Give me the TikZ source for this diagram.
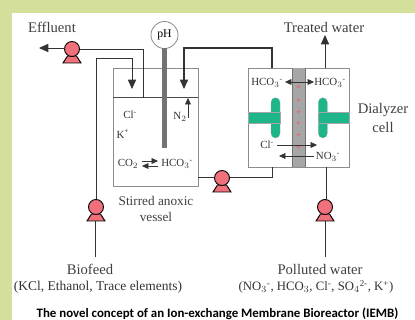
\documentclass[tikz,border=0pt]{standalone}
\usepackage{fontspec}
\setmainfont{Liberation Serif}
\newfontfamily\capfont{Carlito}
\usetikzlibrary{arrows.meta}
\definecolor{framegreen}{HTML}{D3DF9B}
\definecolor{pumpred}{HTML}{F0717C}
\definecolor{spacergreen}{HTML}{1DB58A}
\tikzset{
    pipe/.style = {draw = black!80, line width = 0.7pt},
    flow/.style = {pipe, -{Triangle[length = 8pt, width = 7pt]}},
    ion/.style = {draw = black!80, line width = 0.5pt, -{Triangle[length = 5.5pt, width = 5pt]}},
    tank/.style = {draw = black!45, line width = 0.7pt, fill = white},
    lbl/.style = {text = black!75, font = \fontsize{12.5}{15}\selectfont, inner sep = 0pt, align = center},
    chem/.style = {text = black!80, font = \fontsize{9.3}{11}\selectfont, inner sep = 0pt},
    spacer/.style = {fill = spacergreen, draw = black!35, line width = 0.2pt},
    pumppart/.style = {fill = pumpred, draw = black, line width = 0.8pt}
}
\newcommand{\minus}{\textsuperscript{-}}
% one pump: head on a foot
\newcommand{\pump}[2]{
    \coordinate (#1) at (#2);
    \draw[pumppart] ([shift = {(-4.5,7)}]#1) -- ([shift = {(4.5,7)}]#1)
        -- ([shift = {(9,14)}]#1) -- ([shift = {(-9,14)}]#1) -- cycle;
    \draw[pumppart] (#1) circle (7.5);
}
\begin{document}
\begin{tikzpicture}[x = 0.03cm, y = -0.03cm]
    \useasboundingbox (0,0) rectangle (415,320);
    \fill[framegreen] (0,0) rectangle (415,320);
    \fill[white] (12,13) rectangle (415,320);

    % vessel and dialyzer
    \node[tank, minimum width = 85*0.03cm, minimum height = 118.7*0.03cm, inner sep = 0pt] (vessel) at (155.8,127.3) {};
    \node[tank, minimum width = 100.7*0.03cm, minimum height = 99*0.03cm, inner sep = 0pt] (dialyzer) at (298.6,117.8) {};
    \draw[draw = black!70, line width = 0.6pt] (113.3,97.7) -- (198.3,97.7);

    % membrane
    \fill[black!35] (291.7,68.3) rectangle (305,167.3);
    \draw[black!55, line width = 0.3pt] (291.7,68.3) -- (291.7,167.3) (305,68.3) -- (305,167.3);
    \foreach \y in {88,101,113,124,136,148}
        \node[text = red!70, font = \fontsize{8}{8}\selectfont, inner sep = 0pt] (plus\y) at (298.5,\y) {+};

    % spacers
    \draw[spacer] (271,102.2) arc (180:360:4.5) -- (280,133.5) arc (0:180:4.5) -- cycle;
    \draw[spacer] (248.3,112) rectangle (280,123.5);
    \draw[spacer] (318.3,102.2) arc (180:360:4.5) -- (327.3,133.5) arc (0:180:4.5) -- cycle;
    \draw[spacer] (318.3,112) rectangle (349,123.5);

    % probe
    \node[draw = black!45, line width = 0.7pt, circle, minimum size = 27*0.03cm, inner sep = 0pt, font = \fontsize{10}{12}\selectfont] (ph) at (164.5,35) {pH};
    \fill[black!55] (162.3,48) rectangle (167.3,148);

    % pumps
    \pump{pumpout}{72,49}
    \pump{pumpfeed}{96,207}
    \pump{pumpmid}{222,178}
    \pump{pumpwater}{325,207}

    % pipes
    \coordinate (effluentend) at (39,48);
    \coordinate (feedend) at (95,257);
    \coordinate (waterend) at (325,257);
    \coordinate (treatedend) at (325,35);
    \draw[flow] (64.5,48) -- (effluentend);
    \draw[pipe] (79.5,49) -| (143.3,97.7);
    \draw[flow] (96,199.5) -- (96,58) -| (132,89);
    \draw[pipe] (feedend) -- (95,221);
    \draw[flow, line width = 1pt] (272,68.3) -- (272,48) -| (184,89);
    \draw[pipe] (198.3,177) -- (214.5,177);
    \draw[pipe] (229.5,177) -| (272,167.3);
    \draw[pipe] (326,167.3) -- (326,199.5);
    \draw[pipe] (waterend) -- (325,221);
    \draw[flow] (325,68.3) -- (treatedend);
    \draw[ion] (188,118) -- (188,98);

    % vessel ions
    \node[chem] (cl) at (130,115) {Cl\minus};
    \node[chem] (kplus) at (123,134) {K\textsuperscript{+}};
    \node[chem] (ntwo) at (180,117) {N$_{2}$};
    \node[chem] (cotwo) at (128,164) {CO$_{2}$};
    \node[chem] (hcovessel) at (177,164) {HCO$_{3}$\minus};
    \draw[ion] (142,161) -- (158,161);
    \draw[ion] (158,166) -- (142,166);

    % dialyzer ions
    \node[chem] (hcoleft) at (267,83) {HCO$_{3}$\minus};
    \node[chem] (hcoright) at (330,83) {HCO$_{3}$\minus};
    \draw[ion] (298,82) -- (285,82);
    \draw[ion] (298,82) -- (314,82);
    \node[chem] (clcell) at (267,145) {Cl\minus};
    \node[chem] (nothree) at (328,157) {NO$_{3}$\minus};
    \draw[ion] (277,145) -- (317,145);
    \draw[ion] (314,156) -- (279,156);

    % labels
    \node[lbl] (effluent) at (52,27) {Effluent};
    \node[lbl] (treated) at (324,27) {Treated water};
    \node[lbl] (cell) at (383,118) {Dialyzer\\[1pt]cell};
    \node[lbl, font = \fontsize{11.3}{13.5}\selectfont] (stirred) at (156,209) {Stirred anoxic\\vessel};
    \node[lbl] (biofeed) at (90,269) {Biofeed};
    \node[chem, font = \fontsize{11.5}{14}\selectfont] (biosub) at (98,287) {(KCl, Ethanol, Trace elements)};
    \node[lbl] (polluted) at (320,269) {Polluted water};
    \node[chem, font = \fontsize{10.9}{13}\selectfont] (pollsub) at (316,287) {(NO$_{3}$\minus, HCO$_{3}$, Cl\minus, SO$_{4}$\textsuperscript{2-}, K\textsuperscript{+})};
    \node[inner sep = 0pt, text = black, font = \capfont\bfseries\fontsize{11}{13}\selectfont] (caption) at (217.5,314) {The novel concept of an Ion-exchange Membrane Bioreactor (IEMB)};
\end{tikzpicture}
\end{document}
